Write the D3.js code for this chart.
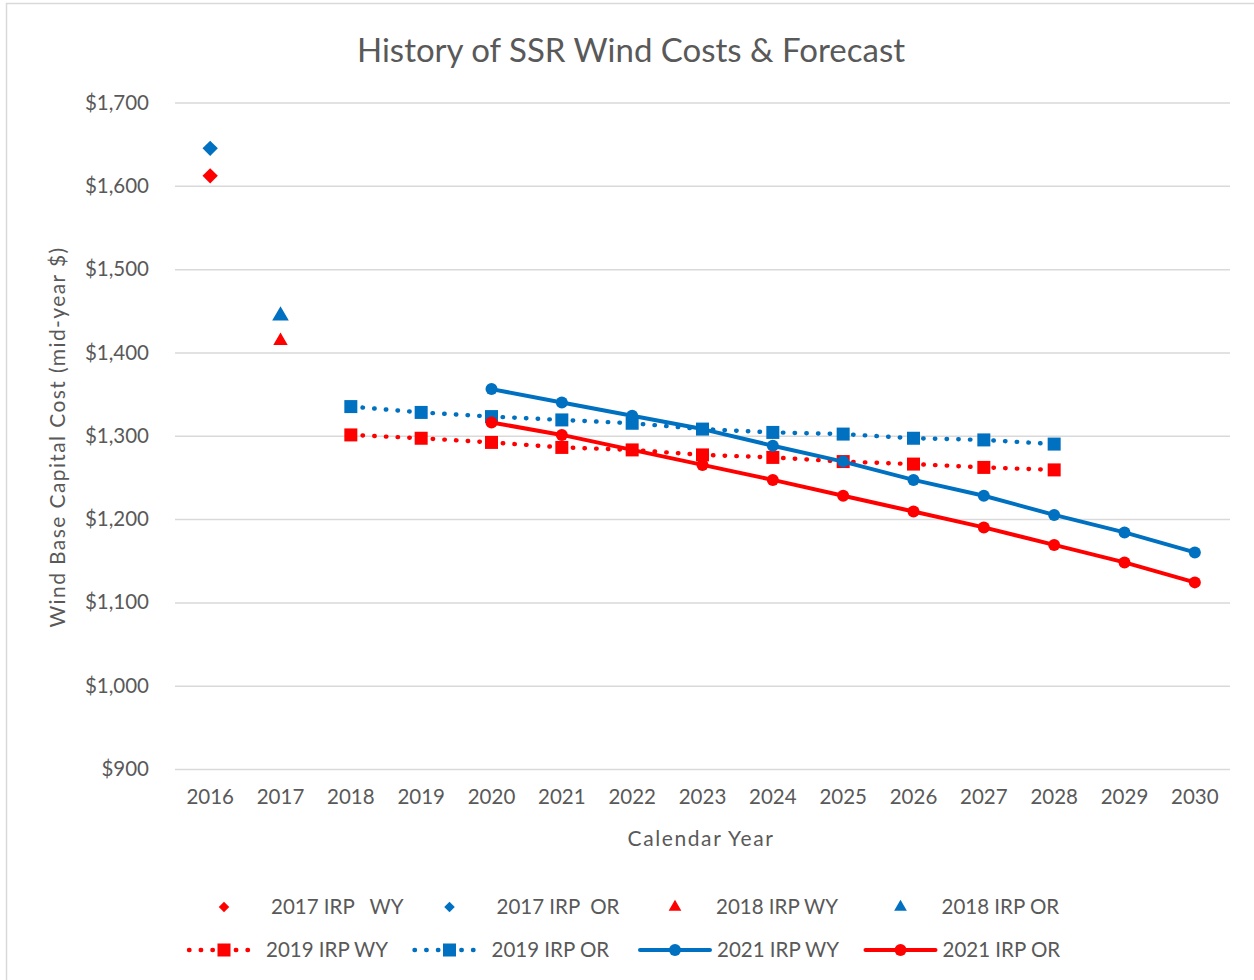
<!DOCTYPE html>
<html>
<head>
<meta charset="utf-8">
<script src="https://cdn.jsdelivr.net/npm/d3@7/dist/d3.min.js"></script>
<style>
  html, body { margin: 0; padding: 0; background: #ffffff; }
  svg { display: block; }
  text { font-family: Lato, "Open Sans", sans-serif; fill: #595959; }
</style>
</head>
<body>
<svg id="chart" width="1254" height="980"></svg>
<script>
// ---- data ----
const years = ["2016","2017","2018","2019","2020","2021","2022","2023","2024","2025","2026","2027","2028","2029","2030"];
const yTicks = [900, 1000, 1100, 1200, 1300, 1400, 1500, 1600, 1700];

const irp2017WY = [{year: "2016", value: 1612}];
const irp2017OR = [{year: "2016", value: 1645}];
const irp2018WY = [{year: "2017", value: 1414}];
const irp2018OR = [{year: "2017", value: 1444}];

const irp2019Years = ["2018","2019","2020","2021","2022","2023","2024","2025","2026","2027","2028"];
const irp2019WY = [1301, 1297, 1292, 1286, 1283, 1277, 1274, 1269, 1266, 1262, 1259];
const irp2019OR = [1335, 1328, 1323, 1319, 1315, 1308, 1304, 1302, 1297, 1295, 1290];

const irp2021Years = ["2020","2021","2022","2023","2024","2025","2026","2027","2028","2029","2030"];
const irp2021WY = [1356, 1340, 1324, 1308, 1288, 1269, 1247, 1228, 1205, 1184, 1160];
const irp2021OR = [1316, 1301, 1283, 1265, 1247, 1228, 1209, 1190, 1169, 1148, 1124];

const RED = "#ff0000";
const BLUE = "#0070c0";

const svg = d3.select("#chart");

// outer chart frame
svg.append("rect")
  .attr("x", 6.5).attr("y", 3.5)
  .attr("width", 1400).attr("height", 1100)
  .attr("fill", "#ffffff")
  .attr("stroke", "#d9d9d9").attr("stroke-width", 1.5);

// ---- scales ----
const plotLeft = 175, plotRight = 1230;
const x = d3.scaleBand().domain(years).range([plotLeft, plotRight]);
const y = d3.scaleLinear().domain([900, 1700]).range([769, 102.5]);
const cx = yr => x(yr) + x.bandwidth() / 2;

// ---- y axis with gridlines ----
const yAxis = svg.append("g")
  .attr("transform", `translate(${plotLeft},0)`)
  .call(d3.axisLeft(y).tickValues(yTicks)
    .tickSize(-(plotRight - plotLeft))
    .tickPadding(26)
    .tickFormat(d3.format("$,")));
yAxis.select(".domain").remove();
yAxis.selectAll(".tick line").attr("stroke", "#d9d9d9").attr("stroke-width", 1.5);
yAxis.selectAll(".tick text")
  .attr("font-size", 20.5).attr("font-family", "Lato, sans-serif").attr("fill", "#595959");

// ---- x axis ----
const xAxis = svg.append("g")
  .attr("transform", `translate(0,769)`)
  .call(d3.axisBottom(x).tickSize(0).tickPadding(20));
xAxis.select(".domain").remove();
xAxis.selectAll(".tick text")
  .attr("font-size", 20.5).attr("font-family", "Lato, sans-serif").attr("fill", "#595959");

// ---- titles ----
svg.append("text")
  .attr("x", 631).attr("y", 62)
  .attr("text-anchor", "middle")
  .attr("font-size", 33)
  .text("History of SSR Wind Costs & Forecast");

svg.append("text")
  .attr("x", 701).attr("y", 846)
  .attr("text-anchor", "middle")
  .attr("font-size", 21)
  .attr("letter-spacing", 1.6)
  .text("Calendar Year");

svg.append("text")
  .attr("transform", "translate(65,437) rotate(-90)")
  .attr("text-anchor", "middle")
  .attr("font-size", 21)
  .attr("letter-spacing", 1.4)
  .text("Wind Base Capital Cost (mid-year $)");

// ---- single-point series ----
function drawDots(data, type, size, color) {
  svg.append("g").selectAll("path").data(data).join("path")
    .attr("transform", d => `translate(${cx(d.year)},${y(d.value)})`)
    .attr("d", d3.symbol().type(type).size(size)())
    .attr("fill", color);
}

drawDots(irp2017OR, d3.symbolDiamond2, 150, BLUE);
drawDots(irp2017WY, d3.symbolDiamond2, 150, RED);
drawDots(irp2018OR, d3.symbolTriangle, 120, BLUE);
drawDots(irp2018WY, d3.symbolTriangle, 90, RED);

// ---- line series ----
const line = d3.line().x(d => cx(d[0])).y(d => y(d[1]));

function drawSeries(yrs, vals, color, dotted, marker) {
  const pts = yrs.map((yr, i) => [yr, vals[i]]);
  const g = svg.append("g");
  g.append("path")
    .attr("d", line(pts))
    .attr("fill", "none")
    .attr("stroke", color)
    .attr("stroke-width", dotted ? 4.4 : 4)
    .attr("stroke-linecap", "round")
    .attr("stroke-linejoin", "round")
    .attr("stroke-dasharray", dotted ? "0.5 11.2" : null);
  if (marker === "square") {
    g.selectAll("rect").data(pts).join("rect")
      .attr("x", d => cx(d[0]) - 6.5).attr("y", d => y(d[1]) - 6.5)
      .attr("width", 13).attr("height", 13)
      .attr("fill", color);
  } else {
    g.selectAll("circle").data(pts).join("circle")
      .attr("cx", d => cx(d[0])).attr("cy", d => y(d[1]))
      .attr("r", 6)
      .attr("fill", color);
  }
}

drawSeries(irp2019Years, irp2019WY, RED, true, "square");
drawSeries(irp2019Years, irp2019OR, BLUE, true, "square");
drawSeries(irp2021Years, irp2021WY, BLUE, false, "circle");
drawSeries(irp2021Years, irp2021OR, RED, false, "circle");

// ---- legend ----
const legendItems = [
  {label: "2017 IRP   WY", color: RED,  kind: "diamond"},
  {label: "2017 IRP  OR",  color: BLUE, kind: "diamond"},
  {label: "2018 IRP WY",   color: RED,  kind: "triangle"},
  {label: "2018 IRP OR",   color: BLUE, kind: "triangle"},
  {label: "2019 IRP WY",   color: RED,  kind: "dotsquare"},
  {label: "2019 IRP OR",   color: BLUE, kind: "dotsquare"},
  {label: "2021 IRP WY",   color: BLUE, kind: "linecircle"},
  {label: "2021 IRP OR",   color: RED,  kind: "linecircle"}
];

const legend = svg.append("g");
legendItems.forEach((item, i) => {
  const col = i % 4, row = Math.floor(i / 4);
  const sx = 224 + col * 225.5;
  const sy = row === 0 ? 907 : 950;
  const g = legend.append("g");
  let textX;
  if (item.kind === "diamond") {
    g.append("path").attr("transform", `translate(${sx},${sy})`)
      .attr("d", d3.symbol().type(d3.symbolDiamond2).size(70)())
      .attr("fill", item.color);
    textX = sx + 47;
  } else if (item.kind === "triangle") {
    g.append("path").attr("transform", `translate(${sx},${sy})`)
      .attr("d", d3.symbol().type(d3.symbolTriangle).size(70)())
      .attr("fill", item.color);
    textX = sx + 41;
  } else {
    const lx0 = sx - 35, lx1 = sx + 35;
    const dotted = item.kind === "dotsquare";
    g.append("line")
      .attr("x1", lx0).attr("x2", lx1).attr("y1", sy).attr("y2", sy)
      .attr("stroke", item.color)
      .attr("stroke-width", dotted ? 4.4 : 4)
      .attr("stroke-linecap", "round")
      .attr("stroke-dasharray", dotted ? "0.5 11.2" : null);
    if (dotted) {
      g.append("rect").attr("x", sx - 6.5).attr("y", sy - 6.5)
        .attr("width", 13).attr("height", 13).attr("fill", item.color);
    } else {
      g.append("circle").attr("cx", sx).attr("cy", sy).attr("r", 6).attr("fill", item.color);
    }
    textX = sx + 42;
  }
  g.append("text")
    .attr("x", textX).attr("y", sy + 7)
    .attr("font-size", 20.5)
    .style("white-space", "pre")
    .text(item.label);
});
</script>
</body>
</html>
